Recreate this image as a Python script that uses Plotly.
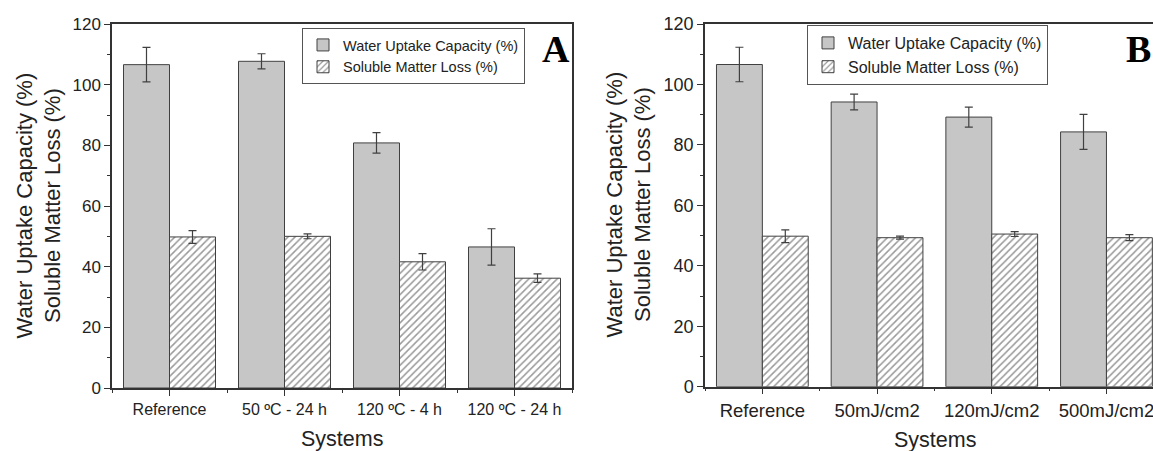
import plotly.graph_objects as go

# ---------------- data ----------------
systems_a = ["Reference", "50 ºC - 24 h", "120 ºC - 4 h", "120 ºC - 24 h"]
wuc_a = [106.6, 107.7, 80.8, 46.5]
wuc_a_err = [5.7, 2.5, 3.4, 6.0]
sml_a = [49.8, 50.0, 41.6, 36.2]
sml_a_err = [2.1, 0.8, 2.7, 1.4]

systems_b = ["Reference", "50mJ/cm2", "120mJ/cm2", "500mJ/cm2"]
wuc_b = [106.6, 94.2, 89.2, 84.3]
wuc_b_err = [5.7, 2.6, 3.3, 5.8]
sml_b = [49.8, 49.3, 50.5, 49.3]
sml_b_err = [2.1, 0.5, 0.8, 1.0]

series_names = ["Water Uptake Capacity (%)", "Soluble Matter Loss (%)"]
panel_letters = ["A", "B"]
y_title = "Water Uptake Capacity (%)<br>Soluble Matter Loss (%)"
x_title = "Systems"

# ---------------- styling ----------------
W, H = 1153, 451
FONT = "Liberation Sans, Arial, sans-serif"
INK = "#222222"
AX = "#333333"
GRAY = "#c6c6c6"
EDGE = "#404040"


def px_x(p):
    return p / W


def px_y(p):
    return 1 - p / H


fig = go.Figure()


def add_panel(pos, wuc, wuc_err, sml, sml_err, xa, ya, leg):
    fig.add_trace(go.Bar(
        x=pos, y=wuc, name=series_names[0], xaxis=xa, yaxis=ya, legend=leg,
        marker=dict(color=GRAY, line=dict(color=EDGE, width=1)),
        error_y=dict(type="data", array=wuc_err, color=EDGE, thickness=1.2, width=4),
    ))
    fig.add_trace(go.Bar(
        x=pos, y=sml, name=series_names[1], xaxis=xa, yaxis=ya, legend=leg,
        marker=dict(color="white", line=dict(color=EDGE, width=1),
                    pattern=dict(shape="/", fgcolor="#333333", bgcolor="white",
                                 size=5, solidity=0.3)),
        error_y=dict(type="data", array=sml_err, color=EDGE, thickness=1.2, width=4),
    ))


pos_a = list(range(len(systems_a)))
pos_b = list(range(len(systems_b)))
add_panel(pos_a, wuc_a, wuc_a_err, sml_a, sml_a_err, "x", "y", "legend")
add_panel(pos_b, wuc_b, wuc_b_err, sml_b, sml_b_err, "x2", "y2", "legend2")


def xaxis(domain, rng, pos, labels, anchor, size):
    return dict(
        domain=domain, range=rng, anchor=anchor, automargin=False,
        tickmode="array", tickvals=pos, ticktext=labels,
        ticks="outside", ticklen=6, tickwidth=1.2, tickcolor=AX,
        minor=dict(tickmode="linear", tick0=0.5, dtick=1, ticks="outside",
                   ticklen=3, tickwidth=1.2, tickcolor=AX),
        showline=True, linecolor=AX, linewidth=1.5, mirror=True,
        showgrid=False, zeroline=False, ticklabeloverflow="allow",
        tickfont=dict(family=FONT, size=size, color=INK),
    )


def yaxis(domain, anchor, size, mirror):
    return dict(
        domain=domain, range=[0, 120], anchor=anchor, automargin=False,
        tickmode="linear", tick0=0, dtick=20,
        ticks="outside", ticklen=6, tickwidth=1.2, tickcolor=AX,
        minor=dict(tickmode="linear", tick0=0, dtick=10, ticks="outside",
                   ticklen=3, tickwidth=1.2, tickcolor=AX),
        showline=True, linecolor=AX, linewidth=1.5, mirror=mirror,
        showgrid=False, zeroline=False,
        tickfont=dict(family=FONT, size=size, color=INK),
    )


annotations = [
    dict(text=x_title, xref="paper", yref="paper", x=px_x(342), y=px_y(439),
         xanchor="center", yanchor="middle", showarrow=False,
         font=dict(family=FONT, size=21.5, color=INK)),
    dict(text=x_title, xref="paper", yref="paper", x=px_x(935), y=px_y(439.5),
         xanchor="center", yanchor="middle", showarrow=False,
         font=dict(family=FONT, size=21.5, color=INK)),
    dict(text=y_title, xref="paper", yref="paper", x=px_x(38.5), y=px_y(206),
         xanchor="center", yanchor="middle", showarrow=False, textangle=-90,
         font=dict(family=FONT, size=22, color=INK)),
    dict(text=y_title, xref="paper", yref="paper", x=px_x(628.5), y=px_y(205),
         xanchor="center", yanchor="middle", showarrow=False, textangle=-90,
         font=dict(family=FONT, size=22, color=INK)),
    dict(text="<b>%s</b>" % panel_letters[0], xref="paper", yref="paper",
         x=px_x(556), y=px_y(49), xanchor="center", yanchor="middle",
         showarrow=False,
         font=dict(family="Liberation Serif, Times New Roman, serif", size=38, color="black")),
    dict(text="<b>%s</b>" % panel_letters[1], xref="paper", yref="paper",
         x=1.0, y=px_y(49), xanchor="right", yanchor="middle",
         showarrow=False,
         font=dict(family="Liberation Serif, Times New Roman, serif", size=38, color="black")),
]

fig.update_layout(
    width=W, height=H,
    margin=dict(l=0, r=0, t=0, b=0, pad=0),
    paper_bgcolor="white", plot_bgcolor="white",
    barmode="group", bargap=0.2, bargroupgap=0,
    font=dict(family=FONT, color=INK),
    xaxis=xaxis([px_x(112), px_x(572)], [-0.5, 3.5], pos_a, systems_a, "y", 16),
    yaxis=yaxis([px_y(388), px_y(24)], "x", 17, True),
    xaxis2=xaxis([px_x(705), 1.0], [-0.5, -0.5 + (1153 - 705) / 114.7], pos_b, systems_b, "y2", 18.5),
    yaxis2=yaxis([px_y(386.7), px_y(24)], "x2", 18, False),
    legend=dict(x=px_x(302), y=px_y(28), xanchor="left", yanchor="top",
                bgcolor="white", bordercolor="#555555", borderwidth=1,
                font=dict(family=FONT, size=14.5, color=INK), tracegroupgap=0),
    legend2=dict(x=px_x(807), y=px_y(25), xanchor="left", yanchor="top",
                 bgcolor="white", bordercolor="#555555", borderwidth=1,
                 font=dict(family=FONT, size=16, color=INK), tracegroupgap=0),
    annotations=annotations,
    showlegend=True,
)

fig.write_html("out.html", config={"displayModeBar": False},
               post_script="document.body.style.margin='0';")
